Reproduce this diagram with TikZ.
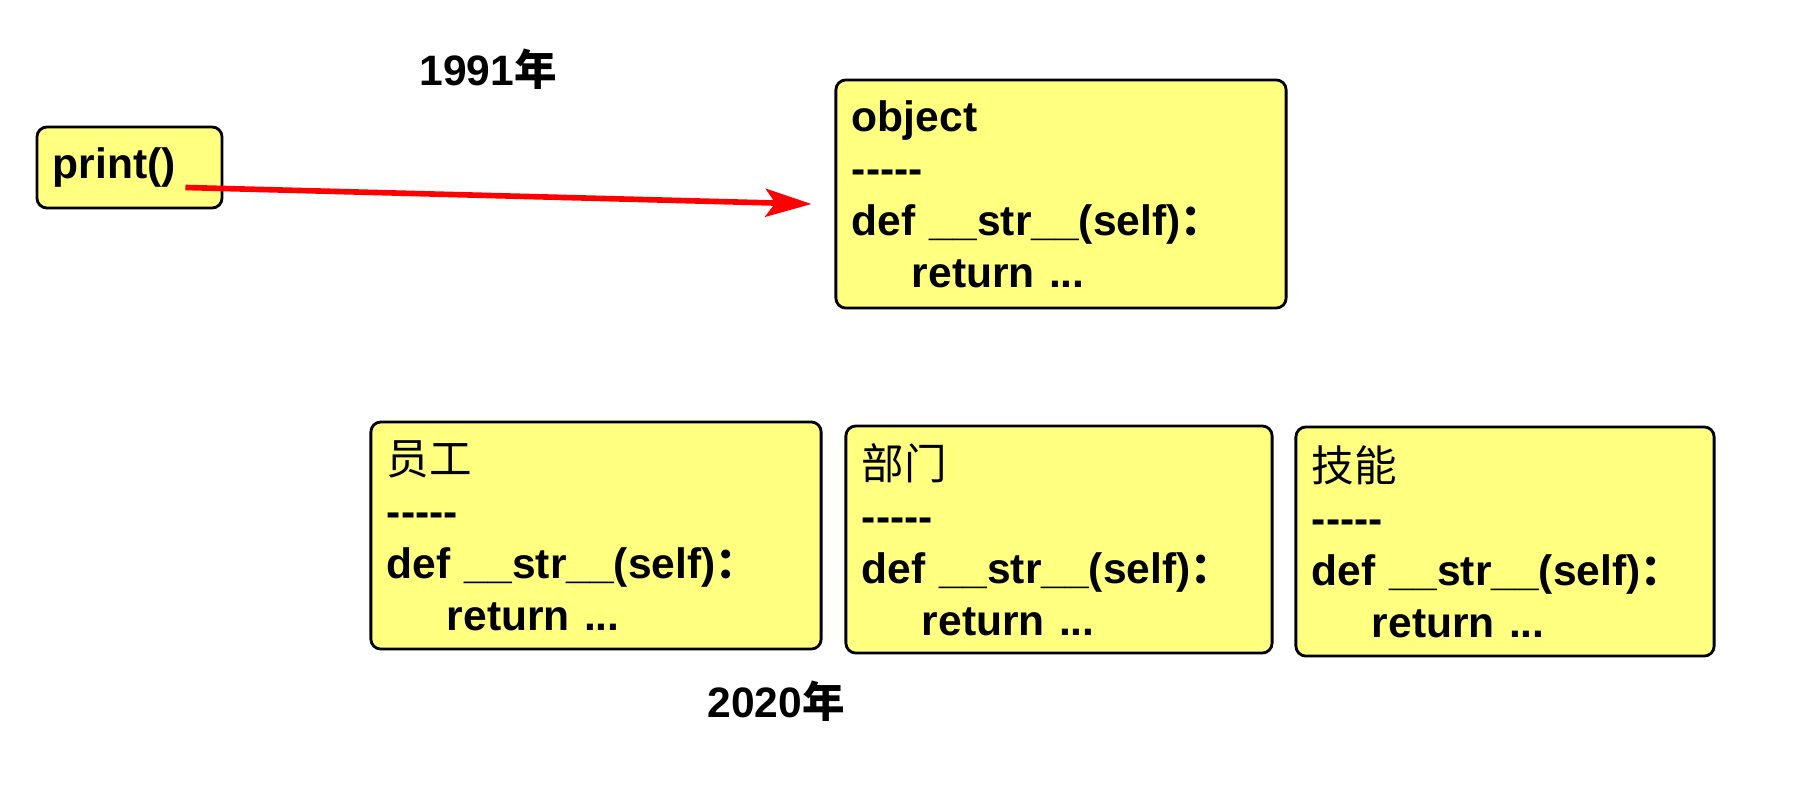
\documentclass[tikz,border=0pt]{standalone}
\usepackage{fontspec}
\setmainfont{Liberation Sans}
\newfontfamily\cjk{Noto Sans CJK SC}
\usetikzlibrary{arrows.meta}
\definecolor{boxyellow}{RGB}{255,255,128}
\tikzset{
codebox/.style={
	  draw, line width=0.8pt, rounded corners=0.1cm, fill=boxyellow,
	    align=left, inner xsep=0.16cm, inner ysep=0pt,
    font=\fontsize{12.1pt}{14.8pt}\selectfont\bfseries},
yearlabel/.style={font=\fontsize{12.1pt}{14.8pt}\selectfont\bfseries},
callarrow/.style={draw=red, line width=1.6pt, -{Stealth[length=0.46cm, width=0.28cm, inset=0.1cm]}}
}
\newcommand{\strbody}{-{}-{}-{}-{}-\\def \_\_str\_\_(self){\cjk ：}\\\hspace*{0.6cm}return ...}

\begin{document}
\begin{tikzpicture}[x=0.01cm, y=-0.01cm]
	\useasboundingbox (0,0) rectangle (1800,800);
	\node[yearlabel] (y1991) at (488,69) {1991{\cjk 年}};
	\node[yearlabel] (y2020) at (776,701) {2020{\cjk 年}};
	\node[codebox, text width=1.53cm, minimum height=0.81cm] (prt) at (129.5,167.5) {print()};
	\node[codebox, text width=4.18cm, minimum height=2.28cm] (obj) at (1061,194) {object\\\strbody};
	\node[codebox, text width=4.18cm, minimum height=2.27cm] (emp) at (596,535.5) {{\cjk\mdseries 员工}\\\strbody};
	\node[codebox, text width=3.94cm, minimum height=2.27cm] (dept) at (1059,539.5) {{\cjk\mdseries 部门}\\\strbody};
	\node[codebox, text width=3.86cm, minimum height=2.29cm] (skill) at (1505,541.5) {{\cjk\mdseries 技能}\\\strbody};
	\coordinate (tail) at ([shift={(-38,20)}]prt.east);
	\coordinate (head) at ([shift={(-23,10)}]obj.west);
	\draw[callarrow] (tail) -- (head);
\end{tikzpicture}
\end{document}
